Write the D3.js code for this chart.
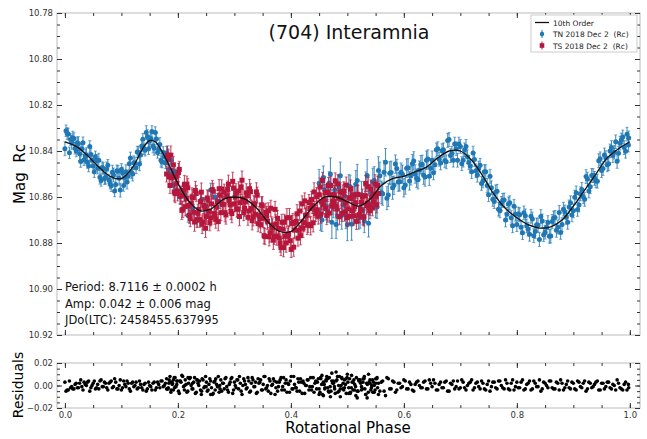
<!DOCTYPE html>
<html>
<head>
<meta charset="utf-8">
<script src="https://cdn.jsdelivr.net/npm/d3@7"></script>
<style>
  body { margin: 0; background: #fff; }
  svg { display: block; font-family: "DejaVu Sans", sans-serif; }
</style>
</head>
<body>
<svg id="chart" width="647" height="439"></svg>
<script>
// 10th order Fourier fit
var fitPhase = [0.00,0.02,0.04,0.06,0.08,0.10,0.12,0.14,0.15,0.16,0.18,0.20,0.22,0.24,0.26,0.28,0.30,0.32,0.34,0.36,0.38,0.40,0.42,0.44,0.46,0.48,0.50,0.52,0.54,0.56,0.58,0.60,0.62,0.64,0.66,0.68,0.70,0.72,0.74,0.76,0.78,0.80,0.82,0.84,0.86,0.88,0.90,0.92,0.94,0.96,0.98,1.00];
var fitMag = [10.836,10.838,10.842,10.847,10.851,10.852,10.847,10.838,10.8355,10.836,10.844,10.854,10.862,10.866,10.865,10.861,10.860,10.861,10.865,10.871,10.875,10.875,10.870,10.864,10.860,10.860,10.862,10.864,10.861,10.855,10.852,10.851,10.849,10.847,10.843,10.840,10.840,10.844,10.851,10.859,10.865,10.869,10.872,10.8735,10.873,10.870,10.864,10.857,10.850,10.843,10.839,10.836];

// [phase, mag, err, residual]
var tnObs = [
[0.002,10.8312,0.0025,-0.005],[0.006,10.8326,0.0025,-0.004],[0.010,10.8350,0.0025,-0.002],[0.014,10.8344,0.003,-0.003],
[0.018,10.8388,0.0025,0.001],[0.022,10.8364,0.0025,-0.002],[0.026,10.8412,0.003,0.002],[0.030,10.8390,0.0025,-0.001],
[0.034,10.8438,0.0025,0.003],[0.038,10.8416,0.003,0.000],[0.042,10.8465,0.0025,0.004],[0.046,10.8415,0.0025,-0.002],
[0.050,10.8465,0.003,0.002],[0.054,10.8425,0.0025,-0.003],[0.058,10.8475,0.0025,0.001],[0.062,10.8514,0.003,0.004],
[0.066,10.8472,0.0025,-0.001],[0.070,10.8520,0.0025,0.003],[0.074,10.8478,0.003,-0.002],[0.078,10.8526,0.0025,0.002],
[0.082,10.8551,0.0025,0.004],[0.086,10.8504,0.003,-0.001],[0.090,10.8546,0.0025,0.003],[0.094,10.8488,0.0025,-0.003],
[0.098,10.8570,0.003,0.005],[0.102,10.8495,0.0025,-0.002],[0.106,10.8515,0.0025,0.001],[0.110,10.8535,0.003,0.004],
[0.114,10.8455,0.0025,-0.003],[0.118,10.8495,0.0025,0.002],[0.122,10.8451,0.003,-0.001],[0.126,10.8473,0.0025,0.003],
[0.130,10.8405,0.0025,-0.002],[0.134,10.8417,0.003,0.001],[0.138,10.8349,0.0025,-0.004],[0.142,10.8397,0.0025,0.002],
[0.146,10.8338,0.003,-0.003],[0.150,10.8355,0.0025,0.000],[0.154,10.8315,0.0025,-0.004],[0.158,10.8388,0.003,0.003],
[0.162,10.8348,0.0025,-0.002],[0.166,10.8394,0.0025,0.001],[0.170,10.8440,0.003,0.004],[0.174,10.8406,0.0025,-0.001],
[0.178,10.8452,0.0025,0.002],[0.182,10.8420,0.003,-0.003],[0.186,10.8500,0.0025,0.003],[0.190,10.8500,0.0025,0.001],
[0.194,10.8490,0.003,-0.002],[0.198,10.8570,0.0025,0.004],
[0.000,10.8390,0.003,0.003],[0.004,10.8324,0.0025,-0.004],[0.008,10.8408,0.0025,0.004],[0.012,10.8362,0.003,-0.001],
[0.016,10.8346,0.0025,-0.003],[0.020,10.8400,0.0025,0.002],[0.024,10.8368,0.003,-0.002],[0.028,10.8446,0.0025,0.005],
[0.032,10.8364,0.0025,-0.004],[0.036,10.8422,0.003,0.001],[0.040,10.8450,0.0025,0.003],[0.044,10.8380,0.0025,-0.005],
[0.048,10.8440,0.003,0.000],[0.052,10.8490,0.0025,0.004],[0.056,10.8440,0.0025,-0.002],[0.060,10.8440,0.003,-0.003],
[0.064,10.8528,0.0025,0.005],[0.068,10.8476,0.0025,-0.001],[0.072,10.8514,0.003,0.002],[0.076,10.8462,0.0025,-0.004],
[0.080,10.8540,0.0025,0.003],[0.084,10.8492,0.003,-0.002],[0.088,10.8574,0.0025,0.006],[0.092,10.8486,0.0025,-0.003],
[0.096,10.8518,0.003,0.000],[0.100,10.8480,0.0025,-0.004],[0.104,10.8550,0.0025,0.004],[0.108,10.8490,0.003,-0.001],
[0.112,10.8510,0.0025,0.002],[0.116,10.8430,0.0025,-0.005],[0.120,10.8500,0.003,0.003],[0.124,10.8452,0.0025,0.000],
[0.128,10.8404,0.0025,-0.003],[0.132,10.8456,0.003,0.004],[0.136,10.8378,0.0025,-0.002],[0.140,10.8390,0.0025,0.001],
[0.144,10.8320,0.003,-0.005],[0.148,10.8390,0.0025,0.003],[0.152,10.8346,0.0025,-0.001],[0.156,10.8378,0.003,0.002],
[0.160,10.8320,0.0025,-0.004],[0.164,10.8406,0.0025,0.003],[0.168,10.8372,0.003,-0.002],[0.172,10.8448,0.0025,0.004],
[0.176,10.8424,0.0025,0.000],[0.180,10.8410,0.003,-0.003],[0.184,10.8480,0.0025,0.002],[0.188,10.8440,0.0025,-0.004],
[0.192,10.8550,0.003,0.005],[0.196,10.8510,0.0025,-0.001],
[0.204,10.8600,0.003,0.004],[0.212,10.8590,0.003,0.000],[0.218,10.8680,0.003,0.007],[0.226,10.8650,0.003,0.002],
[0.234,10.8700,0.003,0.005],[0.242,10.8610,0.003,-0.005],[0.250,10.8640,0.003,-0.001],[0.258,10.8570,0.003,-0.008],
[0.266,10.8600,0.003,-0.004],[0.274,10.8620,0.003,0.000],
[0.450,10.8540,0.006,-0.008],[0.455,10.8700,0.005,0.009],[0.460,10.8570,0.006,-0.003],[0.465,10.8660,0.005,0.006],
[0.470,10.8500,0.007,-0.010],[0.475,10.8640,0.005,0.004],[0.480,10.8720,0.006,0.012],[0.485,10.8555,0.005,-0.005],
[0.490,10.8680,0.006,0.007],[0.495,10.8595,0.005,-0.002],[0.500,10.8720,0.007,0.010],[0.505,10.8555,0.005,-0.007],
[0.510,10.8660,0.006,0.003],[0.515,10.8545,0.006,-0.009],[0.520,10.8690,0.005,0.005],[0.525,10.8592,0.006,-0.004],
[0.530,10.8705,0.005,0.008],[0.535,10.8507,0.007,-0.011],[0.540,10.8630,0.005,0.002],[0.545,10.8535,0.006,-0.006],
[0.550,10.8640,0.005,0.006],[0.555,10.8485,0.006,-0.008],[0.560,10.8580,0.005,0.003],[0.565,10.8492,0.005,-0.005],
[0.570,10.8605,0.005,0.007],[0.575,10.8497,0.005,-0.003],[0.580,10.8560,0.005,0.004],[0.585,10.8457,0.004,-0.006],
[0.590,10.8535,0.004,0.002],[0.595,10.8492,0.004,-0.002],[0.600,10.8560,0.004,0.005],[0.605,10.8475,0.004,-0.003],
[0.610,10.8530,0.004,0.003],[0.615,10.8455,0.004,-0.004],[0.620,10.8500,0.004,0.001],[0.625,10.8525,0.004,0.004],
[0.630,10.8460,0.004,-0.002],[0.635,10.8505,0.004,0.003],[0.640,10.8440,0.004,-0.003],[0.645,10.8510,0.004,0.005],
[0.650,10.8440,0.004,-0.001],[0.655,10.8460,0.003,0.002],[0.660,10.8390,0.003,-0.004],[0.665,10.8452,0.003,0.003],
[0.670,10.8395,0.003,-0.002],[0.675,10.8447,0.003,0.004],[0.680,10.8350,0.003,-0.005],[0.685,10.8410,0.003,0.001],
[0.690,10.8370,0.003,-0.003],[0.695,10.8440,0.003,0.004],[0.700,10.8380,0.003,-0.002],[0.705,10.8440,0.003,0.003],
[0.710,10.8380,0.003,-0.004],[0.715,10.8450,0.003,0.002],[0.720,10.8490,0.003,0.005],[0.725,10.8437,0.003,-0.002],
[0.730,10.8505,0.003,0.003],[0.735,10.8462,0.003,-0.003],[0.740,10.8530,0.003,0.002],[0.745,10.8490,0.003,-0.004],
[0.750,10.8590,0.003,0.004],[0.755,10.8560,0.003,-0.001],[0.760,10.8620,0.003,0.003],[0.765,10.8575,0.003,-0.003],
[0.770,10.8660,0.003,0.004],[0.775,10.8615,0.003,-0.002],[0.780,10.8700,0.003,0.005],[0.785,10.8630,0.003,-0.003],
[0.790,10.8690,0.003,0.002],[0.795,10.8640,0.003,-0.004],[0.800,10.8720,0.003,0.003],[0.805,10.8677,0.003,-0.002],
[0.810,10.8755,0.003,0.005],[0.815,10.8682,0.003,-0.003],[0.820,10.8740,0.003,0.002],[0.825,10.8684,0.003,-0.004],
[0.830,10.8768,0.003,0.004],[0.835,10.8721,0.003,-0.001],[0.840,10.8785,0.003,0.005],[0.845,10.8704,0.003,-0.003],
[0.850,10.8753,0.003,0.002],[0.855,10.8711,0.003,-0.002],[0.860,10.8770,0.003,0.004],[0.865,10.8692,0.003,-0.003],
[0.870,10.8745,0.003,0.003],[0.875,10.8667,0.003,-0.004],[0.880,10.8720,0.003,0.002],[0.885,10.8665,0.003,-0.002],
[0.890,10.8710,0.003,0.004],[0.895,10.8625,0.003,-0.003],[0.900,10.8660,0.003,0.002],[0.905,10.8582,0.003,-0.004],
[0.910,10.8635,0.003,0.003],[0.915,10.8567,0.003,-0.002],[0.920,10.8610,0.003,0.004],[0.925,10.8522,0.003,-0.003],
[0.930,10.8555,0.003,0.002],[0.935,10.8507,0.003,-0.001],[0.940,10.8530,0.003,0.003],[0.945,10.8442,0.003,-0.004],
[0.950,10.8485,0.003,0.002],[0.955,10.8417,0.003,-0.003],[0.960,10.8460,0.003,0.003],[0.965,10.8400,0.003,-0.002],
[0.970,10.8420,0.003,0.001],[0.975,10.8360,0.003,-0.004],[0.980,10.8410,0.003,0.002],[0.985,10.8352,0.003,-0.003],
[0.990,10.8385,0.003,0.001],[0.995,10.8327,0.003,-0.004],[0.998,10.8343,0.003,-0.002],
[0.4525,10.8685,0.006,0.007],[0.4575,10.8515,0.005,-0.009],[0.4625,10.8640,0.006,0.004],[0.4675,10.8540,0.005,-0.006],
[0.4725,10.8710,0.007,0.011],[0.4775,10.8570,0.005,-0.003],[0.4825,10.8683,0.006,0.008],[0.4875,10.8508,0.006,-0.010],
[0.4925,10.8633,0.005,0.002],[0.4975,10.8678,0.006,0.006],[0.5025,10.8553,0.005,-0.007],[0.5075,10.8718,0.007,0.009],
[0.5125,10.8593,0.005,-0.004],[0.5175,10.8528,0.007,-0.011],[0.5225,10.8686,0.005,0.005],[0.5275,10.8659,0.006,0.003],
[0.5325,10.8541,0.005,-0.008],[0.5375,10.8714,0.006,0.010],[0.5425,10.8583,0.005,-0.002],[0.5475,10.8528,0.006,-0.006],
[0.5525,10.8643,0.005,0.007],[0.5575,10.8508,0.006,-0.005],[0.5625,10.8586,0.005,0.004],[0.5675,10.8449,0.006,-0.009],
[0.5725,10.8591,0.005,0.006],[0.5775,10.8494,0.005,-0.003],[0.5825,10.8549,0.004,0.003],[0.5875,10.8476,0.004,-0.004],
[0.5925,10.8534,0.004,0.002],[0.5975,10.8501,0.004,-0.001],[0.6025,10.8548,0.004,0.004],[0.6075,10.8473,0.004,-0.003],
[0.6125,10.8508,0.004,0.001],[0.6175,10.8443,0.004,-0.005],[0.6225,10.8518,0.004,0.003],[0.6275,10.8483,0.004,0.000],
[0.6325,10.8458,0.004,-0.002],[0.6375,10.8513,0.004,0.004],[0.6425,10.8435,0.004,-0.003],[0.6475,10.8475,0.004,0.002],
[0.6525,10.8495,0.003,0.005],[0.6575,10.8395,0.003,-0.004],[0.6625,10.8436,0.003,0.001],[0.6675,10.8399,0.003,-0.002],
[0.6725,10.8441,0.003,0.003],[0.6775,10.8354,0.003,-0.005],[0.6825,10.8420,0.003,0.002],[0.6875,10.8440,0.003,0.004],
[0.6925,10.8390,0.003,-0.001],[0.6975,10.8370,0.003,-0.003],[0.7025,10.8455,0.003,0.005],[0.7075,10.8395,0.003,-0.002],
[0.7125,10.8425,0.003,0.000],[0.7175,10.8465,0.003,0.003],[0.7225,10.8409,0.003,-0.004],[0.7275,10.8486,0.003,0.002],
[0.7325,10.8474,0.003,-0.001],[0.7375,10.8541,0.003,0.004],[0.7425,10.8490,0.003,-0.003],[0.7475,10.8550,0.003,0.001],
[0.7525,10.8510,0.003,-0.005],[0.7575,10.8610,0.003,0.003],[0.7625,10.8578,0.003,-0.002],[0.7675,10.8653,0.003,0.004],
[0.7725,10.8628,0.003,0.000],[0.7775,10.8613,0.003,-0.003],[0.7825,10.8675,0.003,0.002],[0.7875,10.8625,0.003,-0.004],
[0.7925,10.8725,0.003,0.005],[0.7975,10.8675,0.003,-0.001],[0.8025,10.8674,0.003,-0.002],[0.8075,10.8731,0.003,0.003],
[0.8125,10.8669,0.003,-0.004],[0.8175,10.8726,0.003,0.001],[0.8225,10.8762,0.003,0.004],[0.8275,10.8696,0.003,-0.003],
[0.8325,10.8750,0.003,0.002],[0.8375,10.8723,0.003,-0.001],[0.8425,10.8685,0.003,-0.005],[0.8475,10.8764,0.003,0.003],
[0.8525,10.8732,0.003,0.000],[0.8575,10.8771,0.003,0.004],[0.8625,10.8706,0.003,-0.002],[0.8675,10.8689,0.003,-0.003],
[0.8725,10.8731,0.003,0.002],[0.8775,10.8754,0.003,0.005],[0.8825,10.8653,0.003,-0.004],[0.8875,10.8688,0.003,0.001],
[0.8925,10.8643,0.003,-0.002],[0.8975,10.8678,0.003,0.003],[0.9025,10.8601,0.003,-0.003],[0.9075,10.8654,0.003,0.004],
[0.9125,10.8586,0.003,-0.001],[0.9175,10.8599,0.003,0.002],[0.9225,10.8511,0.003,-0.005],[0.9275,10.8574,0.003,0.003],
[0.9325,10.8506,0.003,-0.002],[0.9375,10.8519,0.003,0.001],[0.9425,10.8531,0.003,0.004],[0.9475,10.8434,0.003,-0.004],
[0.9525,10.8476,0.003,0.002],[0.9575,10.8429,0.003,-0.001],[0.9625,10.8455,0.003,0.003],[0.9675,10.8385,0.003,-0.003],
[0.9725,10.8405,0.003,0.000],[0.9775,10.8445,0.003,0.005],[0.9825,10.8366,0.003,-0.002],[0.9875,10.8339,0.003,-0.004],
[0.9925,10.8401,0.003,0.003],[0.9975,10.8374,0.003,0.001]
];

var tsObs = [
[0.180,10.8500,0.0035,0.006],[0.183,10.8435,0.004,-0.002],[0.186,10.8550,0.0035,0.008],[0.189,10.8515,0.004,0.003],
[0.192,10.8460,0.0035,-0.004],[0.195,10.8585,0.004,0.007],[0.198,10.8540,0.0035,0.001],[0.201,10.8494,0.004,-0.005],
[0.204,10.8596,0.0035,0.004],[0.207,10.8658,0.004,0.009],[0.210,10.8570,0.0035,-0.001],[0.213,10.8642,0.004,0.005],
[0.216,10.8544,0.0035,-0.006],[0.219,10.8636,0.004,0.002],[0.222,10.8694,0.0035,0.007],[0.225,10.8600,0.004,-0.003],
[0.228,10.8666,0.0035,0.003],[0.231,10.8572,0.004,-0.007],[0.234,10.8698,0.0035,0.005],[0.237,10.8654,0.004,0.000],
[0.240,10.8620,0.0035,-0.004],[0.243,10.8719,0.004,0.006],[0.246,10.8637,0.0035,-0.002],[0.249,10.8736,0.004,0.008],
[0.252,10.8604,0.0035,-0.005],[0.255,10.8663,0.004,0.001],[0.258,10.8691,0.0035,0.004],[0.261,10.8568,0.004,-0.008],
[0.264,10.8672,0.0035,0.003],[0.267,10.8696,0.004,0.006],[0.270,10.8620,0.0035,-0.001],[0.273,10.8564,0.004,-0.006],
[0.276,10.8668,0.0035,0.005],[0.279,10.8632,0.004,0.002],[0.282,10.8579,0.0035,-0.003],[0.285,10.8678,0.004,0.007],
[0.288,10.8566,0.0035,-0.004],[0.291,10.8615,0.004,0.001],[0.294,10.8663,0.0035,0.006],[0.297,10.8532,0.004,-0.007],
[0.300,10.8630,0.0035,0.003],[0.303,10.8582,0.004,-0.002],[0.306,10.8653,0.0035,0.005],[0.309,10.8685,0.004,0.008],
[0.312,10.8556,0.0035,-0.005],[0.315,10.8608,0.004,0.000],[0.318,10.8649,0.0035,0.004],[0.321,10.8582,0.004,-0.003],
[0.324,10.8688,0.0035,0.007],[0.327,10.8564,0.004,-0.006],[0.330,10.8650,0.0035,0.002],[0.333,10.8686,0.004,0.005],
[0.336,10.8632,0.0035,-0.001],[0.339,10.8578,0.004,-0.007],[0.342,10.8716,0.0035,0.006],[0.345,10.8695,0.004,0.003],
[0.348,10.8634,0.0035,-0.004],[0.351,10.8693,0.004,0.001],[0.354,10.8772,0.0035,0.008],[0.357,10.8681,0.004,-0.002],
[0.360,10.8660,0.0035,-0.005],[0.363,10.8756,0.004,0.004],[0.366,10.8722,0.0035,0.000],[0.369,10.8788,0.004,0.006],
[0.372,10.8654,0.0035,-0.008],[0.375,10.8770,0.004,0.003],[0.378,10.8736,0.0035,-0.001],[0.381,10.8800,0.004,0.005],
[0.384,10.8710,0.0035,-0.004],[0.387,10.8820,0.004,0.007],[0.390,10.8770,0.0035,0.002],[0.393,10.8690,0.004,-0.006],
[0.396,10.8760,0.0035,0.001],[0.399,10.8790,0.004,0.004],[0.402,10.8715,0.0035,-0.003],[0.405,10.8818,0.004,0.008],
[0.408,10.8710,0.0035,-0.002],[0.411,10.8673,0.004,-0.005],[0.414,10.8745,0.0035,0.003],[0.417,10.8768,0.004,0.006],
[0.420,10.8630,0.0035,-0.007],[0.423,10.8711,0.004,0.002],[0.426,10.8682,0.0035,0.000],[0.429,10.8723,0.004,0.005],
[0.432,10.8624,0.0035,-0.004],[0.435,10.8725,0.004,0.007],[0.438,10.8636,0.0035,-0.001],[0.441,10.8578,0.004,-0.006],
[0.444,10.8672,0.0035,0.004],[0.447,10.8656,0.004,0.003],[0.450,10.8590,0.0035,-0.003],[0.453,10.8674,0.004,0.006],
[0.456,10.8528,0.0035,-0.008],[0.459,10.8612,0.004,0.001],[0.462,10.8650,0.0035,0.005],[0.465,10.8580,0.004,-0.002],
[0.468,10.8670,0.0035,0.007],[0.471,10.8550,0.004,-0.005],[0.474,10.8620,0.0035,0.002],[0.477,10.8590,0.004,-0.001],
[0.480,10.8640,0.0035,0.004],[0.483,10.8543,0.004,-0.006],[0.486,10.8686,0.0035,0.008],[0.489,10.8609,0.004,0.000],
[0.492,10.8582,0.0035,-0.003],[0.495,10.8665,0.004,0.005],[0.498,10.8548,0.0035,-0.007],[0.501,10.8651,0.004,0.003],
[0.504,10.8684,0.0035,0.006],[0.507,10.8607,0.004,-0.002],[0.510,10.8590,0.0035,-0.004],[0.513,10.8643,0.004,0.001],
[0.516,10.8706,0.0035,0.007],[0.519,10.8589,0.004,-0.005],[0.522,10.8677,0.0035,0.004],[0.525,10.8623,0.004,-0.001],
[0.528,10.8688,0.0035,0.006],[0.531,10.8594,0.004,-0.003],[0.534,10.8639,0.0035,0.002],[0.537,10.8555,0.004,-0.006],
[0.540,10.8660,0.0035,0.005],[0.543,10.8601,0.004,0.000],[0.546,10.8622,0.0035,0.003],[0.549,10.8543,0.004,-0.004],
[0.552,10.8634,0.0035,0.006],[0.555,10.8585,0.004,0.002],
[0.1815,10.8418,0.004,-0.003],[0.1845,10.8513,0.0035,0.005],[0.1875,10.8418,0.004,-0.006],[0.1905,10.8513,0.0035,0.002],
[0.1935,10.8578,0.004,0.007],[0.1965,10.8513,0.0035,-0.001],[0.1995,10.8577,0.004,0.004],[0.2025,10.8480,0.0035,-0.007],
[0.2055,10.8592,0.004,0.003],[0.2085,10.8654,0.0035,0.008],[0.2115,10.8546,0.004,-0.004],[0.2145,10.8608,0.0035,0.001],
[0.2175,10.8560,0.004,-0.005],[0.2205,10.8680,0.0035,0.006],[0.2235,10.8627,0.004,0.000],[0.2265,10.8603,0.0035,-0.003],
[0.2295,10.8709,0.004,0.007],[0.2325,10.8585,0.0035,-0.006],[0.2355,10.8671,0.004,0.002],[0.2385,10.8697,0.0035,0.004],
[0.2415,10.8579,0.004,-0.008],[0.2445,10.8708,0.0035,0.005],[0.2475,10.8646,0.004,-0.001],[0.2505,10.8685,0.0035,0.003],
[0.2535,10.8613,0.004,-0.004],[0.2565,10.8712,0.0035,0.006],[0.2595,10.8630,0.004,-0.002],[0.2625,10.8575,0.0035,-0.007],
[0.2655,10.8679,0.004,0.004],[0.2685,10.8643,0.0035,0.001],[0.2715,10.8707,0.004,0.008],[0.2745,10.8591,0.0035,-0.003],
[0.2775,10.8565,0.004,-0.005],[0.2805,10.8631,0.0035,0.002],[0.2835,10.8668,0.004,0.006],[0.2865,10.8597,0.0035,-0.001],
[0.2895,10.8545,0.004,-0.006],[0.2925,10.8634,0.0035,0.003],[0.2955,10.8672,0.004,0.007],[0.2985,10.8561,0.0035,-0.004],
[0.3015,10.8601,0.004,0.000],[0.3045,10.8652,0.0035,0.005],[0.3075,10.8574,0.004,-0.003],[0.3105,10.8625,0.0035,0.002],
[0.3135,10.8527,0.004,-0.008],[0.3165,10.8668,0.0035,0.006],[0.3195,10.8621,0.004,0.001],[0.3225,10.8595,0.0035,-0.002],
[0.3255,10.8661,0.004,0.004],[0.3285,10.8577,0.0035,-0.005],[0.3315,10.8703,0.004,0.007],[0.3345,10.8629,0.0035,-0.001],
[0.3375,10.8675,0.004,0.003],[0.3405,10.8592,0.0035,-0.006],[0.3435,10.8681,0.004,0.002],[0.3465,10.8720,0.0035,0.005],
[0.3495,10.8639,0.004,-0.004],[0.3525,10.8768,0.0035,0.008],[0.3555,10.8667,0.004,-0.003],[0.3585,10.8706,0.0035,0.000],
[0.3615,10.8773,0.004,0.006],[0.3645,10.8649,0.0035,-0.007],[0.3675,10.8735,0.004,0.001],[0.3705,10.8771,0.0035,0.004],
[0.3735,10.8717,0.004,-0.002],[0.3765,10.8693,0.0035,-0.005],[0.3795,10.8778,0.004,0.003],[0.3825,10.8820,0.0035,0.007],
[0.3855,10.8740,0.004,-0.001],[0.3885,10.8710,0.0035,-0.004],[0.3915,10.8800,0.004,0.005],[0.3945,10.8770,0.0035,0.002],
[0.3975,10.8690,0.004,-0.006],[0.4005,10.8828,0.0035,0.008],[0.4035,10.8711,0.004,-0.003],[0.4065,10.8744,0.0035,0.001],
[0.4095,10.8706,0.004,-0.002],[0.4125,10.8779,0.0035,0.006],[0.4155,10.8661,0.004,-0.005],[0.4185,10.8734,0.0035,0.003],
[0.4215,10.8736,0.004,0.004],[0.4245,10.8617,0.0035,-0.007],[0.4275,10.8678,0.004,0.000],[0.4305,10.8719,0.0035,0.005],
[0.4335,10.8650,0.004,-0.001],[0.4365,10.8611,0.0035,-0.004],[0.4395,10.8712,0.004,0.007],[0.4425,10.8655,0.0035,0.002],
[0.4455,10.8599,0.004,-0.003],[0.4485,10.8683,0.0035,0.006],[0.4515,10.8557,0.004,-0.006],[0.4545,10.8621,0.0035,0.001],
[0.4575,10.8635,0.004,0.003],[0.4605,10.8581,0.0035,-0.002],[0.4635,10.8680,0.004,0.008],[0.4665,10.8550,0.0035,-0.005],
[0.4695,10.8590,0.004,-0.001],[0.4725,10.8640,0.0035,0.004],[0.4755,10.8620,0.004,0.002],[0.4785,10.8530,0.0035,-0.007],
[0.4815,10.8652,0.004,0.005],[0.4845,10.8605,0.0035,0.000],[0.4875,10.8578,0.004,-0.003],[0.4905,10.8671,0.0035,0.006],
[0.4935,10.8574,0.004,-0.004],[0.4965,10.8627,0.0035,0.001],[0.4995,10.8690,0.004,0.007],[0.5025,10.8603,0.0035,-0.002],
[0.5055,10.8566,0.004,-0.006],[0.5085,10.8659,0.0035,0.003],[0.5115,10.8682,0.004,0.005],[0.5145,10.8625,0.0035,-0.001],
[0.5175,10.8588,0.004,-0.005],[0.5205,10.8678,0.0035,0.004],[0.5235,10.8655,0.004,0.002],[0.5265,10.8600,0.0035,-0.003],
[0.5295,10.8686,0.004,0.006],[0.5325,10.8541,0.0035,-0.008],[0.5355,10.8627,0.004,0.001],[0.5385,10.8642,0.0035,0.003],
[0.5415,10.8566,0.004,-0.004],[0.5445,10.8647,0.0035,0.005],[0.5475,10.8588,0.004,0.000],[0.5505,10.8599,0.0035,0.002],
[0.5535,10.8550,0.004,-0.002]
];

var magTicks = [10.78, 10.80, 10.82, 10.84, 10.86, 10.88, 10.90, 10.92];
var resTicks = [-0.02, 0.00, 0.02];
var phaseTicks = [0.0, 0.2, 0.4, 0.6, 0.8, 1.0];
var legendLabels = ["10th Order", "TN 2018 Dec 2  (Rc)", "TS 2018 Dec 2  (Rc)"];
var infoLines = ["Period: 8.7116 \u00b1 0.0002 h", "Amp: 0.042 \u00b1 0.006 mag", "JDo(LTC): 2458455.637995"];

(function() {
"use strict";

var blue = "#1f77b4", red = "#b5173c";
var left = 57, right = 640;
var mainTop = 13, mainBot = 335, resTop = 363, resBot = 408;

var svg = d3.select("#chart");

var x = d3.scaleLinear().domain([-0.014, 1.018]).range([left, right]);
var y = d3.scaleLinear().domain([10.78, 10.92]).range([mainTop, mainBot]);
var yr = d3.scaleLinear().domain([-0.02, 0.02]).range([resBot, resTop]);

var fmtMinus = function(d) { return d3.format(".2f")(d).replace("-", "\u2212"); };

frame(y, mainTop, mainBot, d3.format(".2f"), magTicks, y.ticks(28), false);
frame(yr, resTop, resBot, fmtMinus, resTicks, yr.ticks(8), true);

// main panel marks
var plot = svg.append("g");
series(plot, tnObs, blue, "circle");
series(plot, tsObs, red, "square");

var fit = fitPhase.map(function(p, i) { return [p, fitMag[i]]; });
plot.append("path")
  .datum(fit)
  .attr("fill", "none")
  .attr("stroke", "#111")
  .attr("stroke-width", 1.3)
  .attr("d", d3.line()
    .x(function(d) { return x(d[0]); })
    .y(function(d) { return y(d[1]); })
    .curve(d3.curveCatmullRom));

// residuals
var res = svg.append("g");
res.selectAll("circle")
  .data(tnObs.concat(tsObs))
  .enter()
  .append("circle")
  .attr("cx", function(d) { return x(d[0]); })
  .attr("cy", function(d) { return yr(d[3]); })
  .attr("r", 1.8)
  .attr("fill", "#000");

// title and info text
svg.append("text")
  .attr("x", 349).attr("y", 39)
  .attr("text-anchor", "middle")
  .attr("font-size", 19)
  .attr("fill", "#111")
  .text("(704) Interamnia");

svg.append("g").selectAll("text")
  .data(infoLines)
  .enter()
  .append("text")
  .attr("x", 65)
  .attr("y", function(d, i) { return 291 + i * 16.5; })
  .attr("font-size", 11.5)
  .attr("fill", "#111")
  .text(function(d) { return d; });

// axis titles
svg.append("text")
  .attr("transform", "translate(25,174) rotate(-90)")
  .attr("text-anchor", "middle")
  .attr("font-size", 15)
  .style("white-space", "pre")
  .text("Mag  Rc");

svg.append("text")
  .attr("transform", "translate(23,385) rotate(-90)")
  .attr("text-anchor", "middle")
  .attr("font-size", 14)
  .text("Residuals");

svg.append("text")
  .attr("x", 348).attr("y", 433)
  .attr("text-anchor", "middle")
  .attr("font-size", 15)
  .text("Rotational Phase");

legend();

function frame(ys, top, bot, fmt, major, minor, withX) {
  var g = svg.append("g");

  g.append("rect")
    .attr("x", left).attr("y", top)
    .attr("width", right - left).attr("height", bot - top)
    .attr("fill", "none").attr("stroke", "#bbb");

  var axes = [
    [d3.axisLeft(ys), "translate(" + left + ",0)", major, 5, fmt],
    [d3.axisRight(ys), "translate(" + right + ",0)", major, 5, null],
    [d3.axisLeft(ys), "translate(" + left + ",0)", minor, 3, null],
    [d3.axisRight(ys), "translate(" + right + ",0)", minor, 3, null],
    [d3.axisTop(x), "translate(0," + top + ")", phaseTicks, 5, null],
    [d3.axisTop(x), "translate(0," + top + ")", x.ticks(20), 3, null],
    [d3.axisBottom(x), "translate(0," + bot + ")", phaseTicks, 5, withX ? d3.format(".1f") : null],
    [d3.axisBottom(x), "translate(0," + bot + ")", x.ticks(20), 3, null]
  ];

  axes.forEach(function(a) {
    var ax = a[0].tickValues(a[2]).tickSize(-a[3]).tickPadding(4)
      .tickFormat(a[4] || function() { return ""; });
    var sel = g.append("g").attr("transform", a[1]).call(ax);
    sel.select(".domain").remove();
    sel.selectAll("line").attr("stroke", "#333");
    sel.selectAll("text").attr("font-size", 8.5).attr("fill", "#333")
      .attr("font-family", "DejaVu Sans, sans-serif");
  });
}

function series(root, data, color, shape) {
  var g = root.append("g");

  g.selectAll("line.bar")
    .data(data)
    .enter()
    .append("line")
    .attr("class", "bar")
    .attr("x1", function(d) { return x(d[0]); })
    .attr("x2", function(d) { return x(d[0]); })
    .attr("y1", function(d) { return y(d[1] - d[2]); })
    .attr("y2", function(d) { return y(d[1] + d[2]); })
    .attr("stroke", color)
    .attr("stroke-opacity", 0.8)
    .attr("stroke-width", 1.1);

  g.selectAll("path.cap")
    .data(data)
    .enter()
    .append("path")
    .attr("class", "cap")
    .attr("d", function(d) {
      var cx = x(d[0]), a = y(d[1] - d[2]), b = y(d[1] + d[2]);
      return "M" + (cx - 1.5) + "," + a + "h3M" + (cx - 1.5) + "," + b + "h3";
    })
    .attr("stroke", color)
    .attr("stroke-opacity", 0.8)
    .attr("stroke-width", 0.8);

  if (shape === "circle") {
    g.selectAll("circle")
      .data(data)
      .enter()
      .append("circle")
      .attr("cx", function(d) { return x(d[0]); })
      .attr("cy", function(d) { return y(d[1]); })
      .attr("r", 2.5)
      .attr("fill", color);
  } else {
    g.selectAll("rect")
      .data(data)
      .enter()
      .append("rect")
      .attr("x", function(d) { return x(d[0]) - 2.5; })
      .attr("y", function(d) { return y(d[1]) - 2.5; })
      .attr("width", 5).attr("height", 5)
      .attr("fill", color);
  }
}

function legend() {
  var g = svg.append("g").attr("transform", "translate(531,15)");
  g.append("rect")
    .attr("width", 106).attr("height", 37)
    .attr("fill", "#fff").attr("stroke", "#ccc");

  var rows = g.selectAll("g")
    .data(legendLabels)
    .enter()
    .append("g")
    .attr("transform", function(d, i) { return "translate(0," + (7.5 + i * 11.5) + ")"; });

  rows.append("text")
    .attr("x", 22).attr("y", 3)
    .attr("font-size", 7.5)
    .attr("fill", "#222")
    .style("white-space", "pre")
    .text(function(d) { return d; });

  rows.filter(function(d, i) { return i === 0; })
    .append("line")
    .attr("x1", 4).attr("x2", 18)
    .attr("stroke", "#111").attr("stroke-width", 1.3);

  rows.filter(function(d, i) { return i === 1; })
    .call(function(s) {
      s.append("line").attr("x1", 11).attr("x2", 11).attr("y1", -4).attr("y2", 4)
        .attr("stroke", blue);
      s.append("circle").attr("cx", 11).attr("r", 2.2).attr("fill", blue);
    });

  rows.filter(function(d, i) { return i === 2; })
    .call(function(s) {
      s.append("line").attr("x1", 11).attr("x2", 11).attr("y1", -4).attr("y2", 4)
        .attr("stroke", red);
      s.append("rect").attr("x", 8.7).attr("y", -2.3).attr("width", 4.6).attr("height", 4.6)
        .attr("fill", red);
    });
}

})();
</script>
</body>
</html>
